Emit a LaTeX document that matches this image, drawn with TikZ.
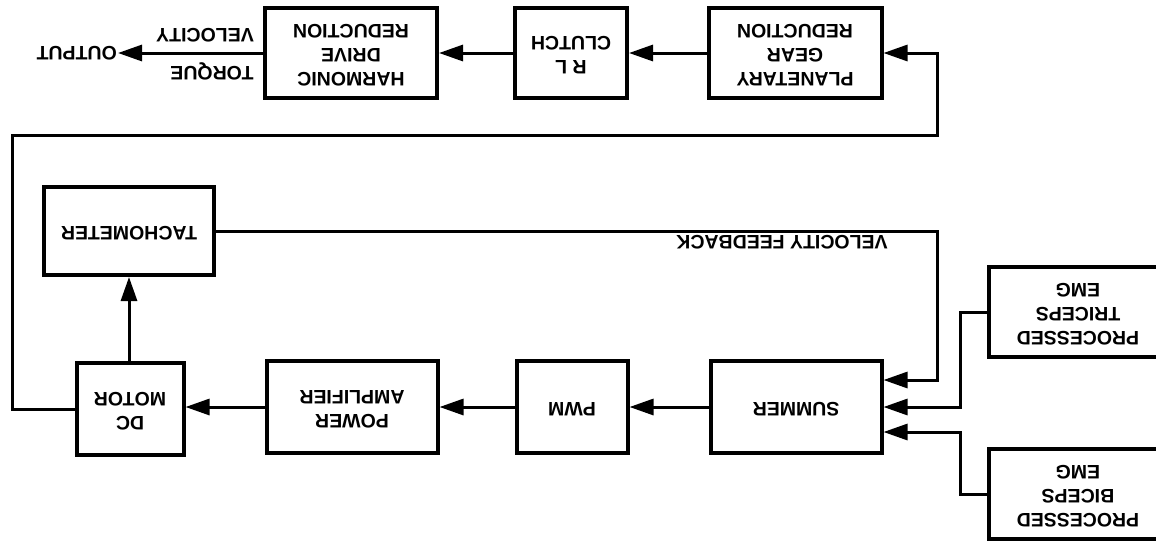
\documentclass[tikz,border=0pt]{standalone}
\usepackage{fontspec}
\setmainfont{Liberation Sans}
\usepackage{graphicx}
\usetikzlibrary{arrows.meta}

\newcommand{\updown}[1]{\rotatebox[origin=c]{180}{\begin{tabular}{@{}c@{}}#1\end{tabular}}}

\begin{document}
\begin{tikzpicture}[x=1pt, y=-1pt, font=\bfseries\fontsize{19.5}{24}\selectfont,
    block/.style={draw, line width=4pt, inner sep=0pt, minimum height=90pt, minimum width=#1},
    flow/.style={line width=3pt, -{Triangle[length=24pt,width=16pt]}},
    lbl/.style={rotate=180, inner sep=1pt}]
        \useasboundingbox (0,0) rectangle (1156,542);

        % upper row
        \node[block=173pt] (planet)   at (795,53) {\updown{PLANETARY\\GEAR\\REDUCTION}};
        \node[block=112pt] (clutch)   at (571,53) {\updown{R L\\CLUTCH}};
        \node[block=172pt] (harmonic) at (351,53) {\updown{HARMONIC\\DRIVE\\REDUCTION}};
        \node[lbl, anchor=west] (output) at (118,53) {OUTPUT};
        \node[lbl] (velocity) at (205,35) {VELOCITY};
        \node[lbl] (torque)   at (212,71) {TORQUE};

        \draw[flow] (planet.west)   -- (clutch.east);
        \draw[flow] (clutch.west)   -- (harmonic.east);
        \draw[flow] (harmonic.west) -- (output);

        % lower row
        \node[block=171pt, minimum height=92pt] (summer) at (796,407) {\updown{SUMMER}};
        \node[block=111pt, minimum height=92pt] (pwm)    at (572,407) {\updown{PWM}};
        \node[block=171pt, minimum height=92pt] (amp)    at (352,407) {\updown{POWER\\AMPLIFIER}};
        \node[block=107pt, minimum height=92pt] (motor)  at (130,409) {\updown{DC\\MOTOR}};
        \node[block=170pt, minimum height=88pt] (tach)   at (129,231) {\updown{TACHOMETER}};

        \node[block=178pt] (triceps) at (1078,312) {\updown{PROCESSED\\TRICEPS\\EMG}};
        \node[block=178pt] (biceps)  at (1078,494) {\updown{PROCESSED\\BICEPS\\EMG}};

        \draw[flow] (summer.west) -- (pwm.east);
        \draw[flow] (pwm.west)    -- (amp.east);
        \draw[flow] (amp.west)    -- (amp.west -| motor.east);
        \draw[flow] (motor.north -| tach.south) -- (tach.south);

        % loop to the gear
        \coordinate (loopA) at (12,135);
        \coordinate (loopB) at (937,135);
        \draw[flow] (motor.west) -| (loopA) -- (loopB) |- (planet.east);

        % feedback and inputs
        \coordinate (fbTurn)  at (937,380);
        \coordinate (triTurn) at (960,407);
        \coordinate (bicTurn) at (960,432);
        \draw[flow] (tach.east)    -| (fbTurn)  -- (fbTurn -| summer.east);
        \draw[flow] (triceps.west) -| (triTurn) -- (summer.east);
        \draw[flow] (biceps.west)  -| (bicTurn) -- (bicTurn -| summer.east);
        \node[lbl] (fblabel) at (782,242) {VELOCITY FEEDBACK};
\end{tikzpicture}
\end{document}
